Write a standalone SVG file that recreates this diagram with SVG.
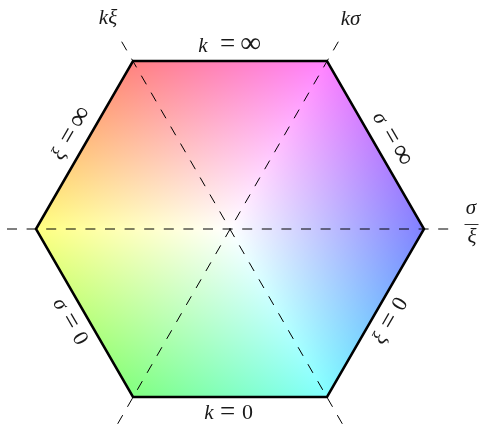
<svg xmlns="http://www.w3.org/2000/svg" width="479" height="424" viewBox="0 0 479 424">
<defs>
<linearGradient id="rA" gradientUnits="userSpaceOnUse" x1="230" y1="229" x2="375.49" y2="313"><stop offset="0" stop-color="#ffffff"/><stop offset="1" stop-color="#80ffff"/></linearGradient>
<linearGradient id="rB" gradientUnits="userSpaceOnUse" x1="230" y1="229" x2="230" y2="397"><stop offset="0" stop-color="#ffffff"/><stop offset="1" stop-color="#80ffff"/></linearGradient>
<linearGradient id="gA" gradientUnits="userSpaceOnUse" x1="230" y1="229" x2="230" y2="61"><stop offset="0" stop-color="#ffffff"/><stop offset="1" stop-color="#ff80ff"/></linearGradient>
<linearGradient id="gB" gradientUnits="userSpaceOnUse" x1="230" y1="229" x2="375.49" y2="145"><stop offset="0" stop-color="#ffffff"/><stop offset="1" stop-color="#ff80ff"/></linearGradient>
<linearGradient id="bA" gradientUnits="userSpaceOnUse" x1="230" y1="229" x2="84.51" y2="313"><stop offset="0" stop-color="#ffffff"/><stop offset="1" stop-color="#ffff80"/></linearGradient>
<linearGradient id="bB" gradientUnits="userSpaceOnUse" x1="230" y1="229" x2="84.51" y2="145"><stop offset="0" stop-color="#ffffff"/><stop offset="1" stop-color="#ffff80"/></linearGradient>
</defs>
<style>
.ch{mix-blend-mode:multiply}
.ax{fill:none;stroke:#000;stroke-width:1;stroke-dasharray:10 9.6}
.t{font-family:"Liberation Serif","DejaVu Serif",serif;font-size:21px;fill:#1a1a1a;text-anchor:middle}
.i{font-style:italic}
.eq{font-size:27px}
.inf{font-size:29px}
.z{font-size:22px}
</style>
<rect width="479" height="424" fill="#ffffff"/>
<g id="shading">
<g class="ch">
<polygon points="230,229 327,61 424,229 327,397 133,397" fill="url(#rA)"/>
<polygon points="230,229 327,397 133,397 36,229" fill="url(#rB)"/>
</g>
<g class="ch">
<polygon points="230,229 36,229 133,61 327,61 424,229" fill="url(#gA)"/>
<polygon points="230,229 327,61 424,229 327,397" fill="url(#gB)"/>
</g>
<g class="ch">
<polygon points="230,229 327,397 133,397 36,229 133,61" fill="url(#bA)"/>
<polygon points="230,229 36,229 133,61 327,61" fill="url(#bB)"/>
</g>
</g>
<g id="axes">
<line class="ax" x1="7" y1="229" x2="453" y2="229"/>
<line class="ax" x1="121.7" y1="41.7" x2="345.9" y2="430"/>
<line class="ax" x1="338.3" y1="41.7" x2="114.1" y2="430"/>
</g>
<g id="hexagon">
<polygon points="36,229 133,61 327,61 424,229 327,397 133,397" fill="none" stroke="#000" stroke-width="2.5" stroke-linejoin="miter"/>
</g>
<g id="labels">
<text class="t i" x="108" y="24">kξ</text>
<text class="t i" x="350.5" y="25">kσ</text>
<g id="k-inf"><text class="t i" x="203" y="51.5">k</text><text class="t eq" x="227.5" y="52">=</text><text class="t inf" x="250.5" y="52">∞</text></g>
<g id="k-zero"><text class="t i" x="209" y="419">k</text><text class="t eq" x="227.5" y="419.5">=</text><text class="t z" x="247.5" y="419">0</text></g>
<g id="sigma-over-xi"><text class="t i" x="471" y="214">σ</text><line x1="464.5" y1="224.5" x2="478.5" y2="224.5" stroke="#1a1a1a" stroke-width="0.9"/><text class="t i" x="472" y="243">ξ</text></g>
<g id="xi-inf" transform="translate(69.8,136.5) rotate(-60)"><text class="t i" x="-21" y="5.5">ξ</text><text class="t eq" x="0" y="6.5">=</text><text class="t inf" x="22" y="7">∞</text></g>
<g id="sigma-inf" transform="translate(390.2,136.5) rotate(60)"><text class="t i" x="-21" y="5.5">σ</text><text class="t eq" x="0" y="6.5">=</text><text class="t inf" x="22" y="7">∞</text></g>
<g id="sigma-zero" transform="translate(69.8,321.5) rotate(60)"><text class="t i" x="-20" y="5.5">σ</text><text class="t eq" x="0" y="6.5">=</text><text class="t z" x="20" y="6">0</text></g>
<g id="xi-zero" transform="translate(390.2,321.5) rotate(-60)"><text class="t i" x="-20" y="5.5">ξ</text><text class="t eq" x="0" y="6.5">=</text><text class="t z" x="20" y="6">0</text></g>
</g>
</svg>
